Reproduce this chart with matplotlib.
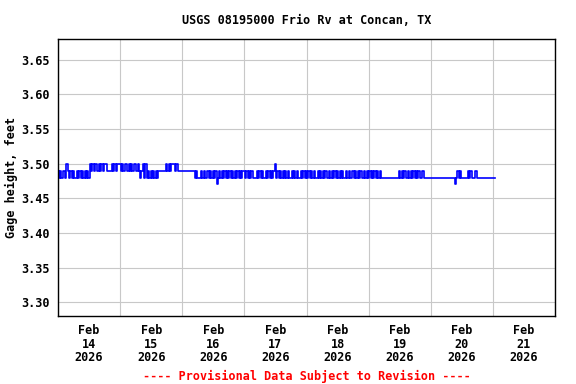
import matplotlib
matplotlib.use("Agg")
import matplotlib.pyplot as plt
import matplotlib.dates as mdates
import pandas as pd

# gage height readings, one code per 30 minutes
# '7' = 3.47, '8' = 3.48, '9' = 3.49, '0' = 3.50 ft
code_level = {'7': 3.47, '8': 3.48, '9': 3.49, '0': 3.50}
feb14 = "98989980" "98989889" "898989898" "0909009090900" "9999" "090900"
feb15 = "090900909090090" "9890808" "989898989" "99999" "090900090" "999"
feb16 = "9999999999" "898889898898989897" "89898989898989898989"
feb17 = "989898988898" "989889898989" "0" "898989898988" "98989889898"
feb18 = "989898988989" "898988989898" "989898898988" "989898988989"
feb19 = "8989898989" "88888888888888" "989898" "8" "98989" "8" "9898" "8" "9" "88888"
feb20 = "8888888888888888888" "78989" "88888" "9" "8" "9" "888" "9" "888888888888"
feb21 = "888"

codes = feb14 + feb15 + feb16 + feb17 + feb18 + feb19 + feb20 + feb21
heights = [code_level[c] for c in codes]
times = pd.date_range("2026-02-14 00:00", periods=len(heights), freq="30min")

title = "USGS 08195000 Frio Rv at Concan, TX"
ylabel = "Gage height, feet"
footer = "---- Provisional Data Subject to Revision ----"
yticks = [3.30, 3.35, 3.40, 3.45, 3.50, 3.55, 3.60, 3.65]

plt.rcParams['font.family'] = ['DejaVu Sans Mono']
plt.rcParams['font.weight'] = 'bold'

fig = plt.figure(figsize=(5.76, 3.84), dpi=100)
ax = fig.add_axes([58/576, 1-316/384, 497/576, 277/384])

ax.plot(times, heights, color='#0000ff', lw=1.2, drawstyle='steps-mid')

ax.set_xlim(pd.Timestamp("2026-02-14"), pd.Timestamp("2026-02-22"))
ax.set_ylim(3.28, 3.68)
ax.set_yticks(yticks)
ax.set_yticklabels([f"{v:.2f}" for v in yticks])

ax.xaxis.set_major_locator(mdates.DayLocator())
ax.xaxis.set_major_formatter(plt.NullFormatter())
ax.xaxis.set_minor_locator(mdates.HourLocator(byhour=12))
ax.xaxis.set_minor_formatter(mdates.DateFormatter("%b\n%d\n%Y"))

ax.grid(True, which='major', color='#c8c8c8', lw=0.8)
ax.set_axisbelow(True)
ax.tick_params(which='both', length=0, labelsize=8.5, pad=6)
for lab in ax.xaxis.get_minorticklabels():
    lab.set_linespacing(1.05)
    lab.set_fontweight('bold')
for lab in ax.get_yticklabels():
    lab.set_fontweight('bold')
for s in ax.spines.values():
    s.set_linewidth(1)
    s.set_color('black')

ax.set_ylabel(ylabel, fontsize=8.5, fontweight='bold', labelpad=2)
fig.text(0.532, 1-20/384, title, ha='center', va='center', fontsize=8.5, fontweight='bold')
fig.text(0.532, 1-376/384, footer, ha='center', va='center', fontsize=8.5,
         fontweight='bold', color='red')

fig.savefig("out.png", dpi=100)
